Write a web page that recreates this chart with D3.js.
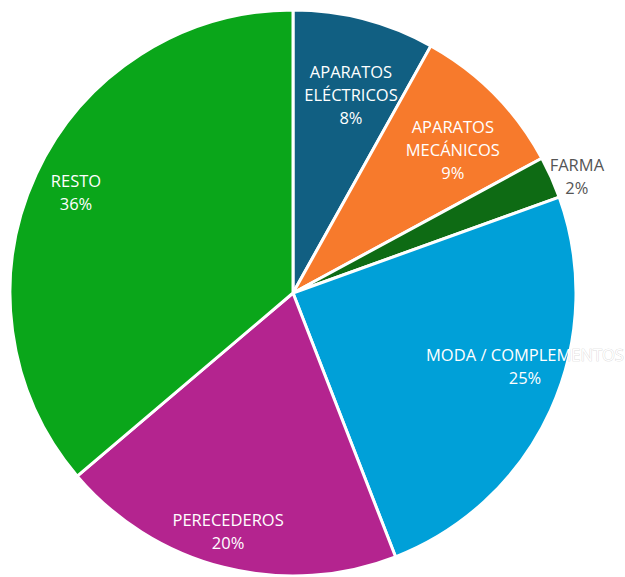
<!DOCTYPE html>
<html><head><meta charset="utf-8">
<script src="https://cdn.jsdelivr.net/npm/d3@7"></script>
<style>body{margin:0;background:#fff}svg{display:block}</style>
</head><body>
<svg id="c" width="625" height="577"></svg>
<script>
const categories = ["APARATOS\nELÉCTRICOS", "APARATOS\nMECÁNICOS", "FARMA", "MODA / COMPLEMENTOS", "PERECEDEROS", "RESTO"];
const values = [8.1, 9.0, 2.4, 24.6, 19.7, 36.2];
const colors = ["#115f82", "#f77a2c", "#0e6b14", "#00a0d8", "#b4248f", "#0aa61a"];
const labelColors = ["#fff", "#fff", "#555", "#fff", "#fff", "#fff"];
const labelRadius = [0.73, 0.758, 1.085, 0.86, 0.875, 0.845];
const labelAngleShift = [0.03, 0.049, 0.03, -0.12, 0.017, 0];

const svg = d3.select("#c");
const cx = 293, cy = 293, R = 283;
const g = svg.append("g").attr("transform", `translate(${cx},${cy})`);
svg.append("defs").append("clipPath").attr("id", "outside")
  .append("path").attr("clip-rule", "evenodd")
  .attr("d", `M${-cx},${-cy}h625v577h-625z M${R},0A${R},${R} 0 1,0 ${-R},0A${R},${R} 0 1,0 ${R},0z`);
const total = d3.sum(values);
const pie = d3.pie().sort(null).value(d => d)(values);
const arc = d3.arc().innerRadius(0).outerRadius(R);
g.selectAll("path").data(pie).join("path")
  .attr("d", arc).attr("fill", (d, i) => colors[i])
  .attr("stroke", "#fff").attr("stroke-width", 3).attr("stroke-linejoin", "round");

pie.forEach((d, i) => {
  const a = (d.startAngle + d.endAngle) / 2 + labelAngleShift[i];
  const r = R * labelRadius[i];
  const x = Math.sin(a) * r, y = -Math.cos(a) * r;
  const lines = categories[i].split("\n").concat([Math.round(values[i] / total * 100) + "%"]);
  const lh = 23;
  const draw = () => {
    const t = g.append("text").attr("text-anchor", "middle")
      .attr("font-family", "'Open Sans', Lato, sans-serif").attr("font-size", 16.5);
    lines.forEach((l, k) => {
      t.append("tspan").attr("x", x).attr("y", y + (k - (lines.length - 1) / 2) * lh + 6).text(l);
    });
    return t;
  };
  if (i === 3) {
    draw().attr("fill", "none").attr("stroke", "#cfcfcf").attr("stroke-width", 0.7)
      .attr("clip-path", "url(#outside)");
  }
  draw().attr("fill", labelColors[i]);
});
</script>
</body></html>
